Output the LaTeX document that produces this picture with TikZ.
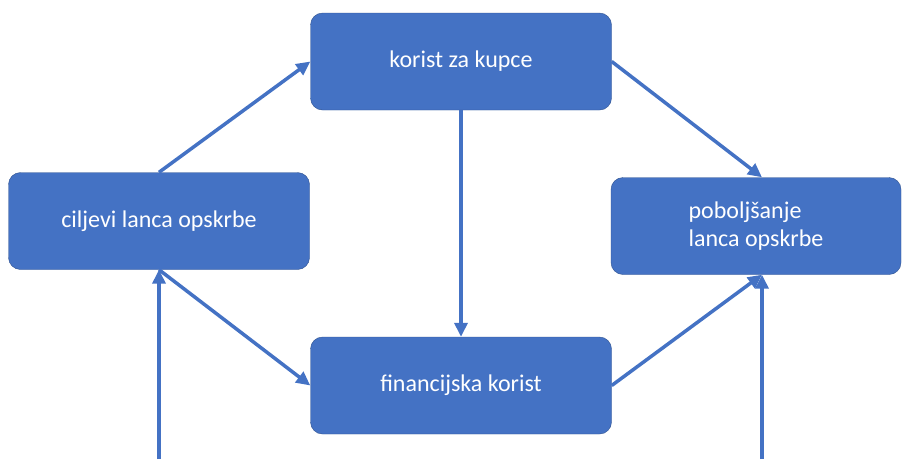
\documentclass[tikz,border=0pt]{standalone}
\usepackage{fontspec}
\setmainfont{Carlito}
\usetikzlibrary{arrows.meta,positioning}
\definecolor{plava}{HTML}{4472C4}
\definecolor{rub}{HTML}{2F528F}
\tikzstyle{kutija} = [draw=rub, fill=plava, thin, rectangle, rounded corners=12pt, minimum width=301pt, minimum height=97pt, text=white, align=center, inner sep=0pt, font=\fontsize{24}{28}\selectfont]
\tikzstyle{strelica} = [draw=plava, line width=3.5pt, -{Triangle[length=14pt,width=13pt]}]

\begin{document}
\begin{tikzpicture}[x=1pt,y=-1pt]
\useasboundingbox (0,0) rectangle (902,459);
\node [kutija] (kupci) at (461,61.5) {korist za kupce};
\node [kutija] (ciljevi) at (159,221) {ciljevi lanca opskrbe};
\node [kutija, minimum width=290pt, align=left] (pobolj) at (756,226) {poboljšanje\\lanca opskrbe};
\node [kutija] (financ) at (461,385.5) {financijska korist};
\coordinate (ulazL) at (159,459);
\coordinate (ulazR) at (762,459);
% veze
\draw [strelica] (ciljevi.north) -- (kupci.west);
\draw [strelica] (kupci.east) -- ([xshift=6pt]pobolj.north);
\draw [strelica] (kupci.south) -- (financ.north);
\draw [strelica] (ciljevi.south) -- (financ.west);
\draw [strelica] (financ.east) -- ([xshift=6pt]pobolj.south);
\draw [strelica] (ulazL) -- (ciljevi.south);
\draw [strelica] (ulazR) -- ([xshift=6pt]pobolj.south);
\end{tikzpicture}
\end{document}
